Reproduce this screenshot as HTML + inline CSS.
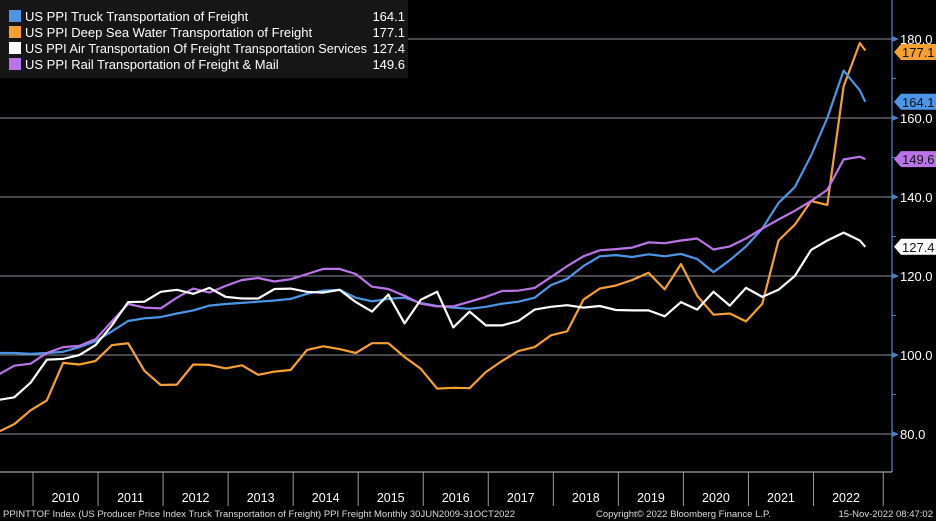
<!DOCTYPE html>
<html><head><meta charset="utf-8"><style>
html,body{margin:0;padding:0;background:#000;}
svg{display:block;font-family:"Liberation Sans",sans-serif;}
</style></head><body>
<svg id="chart" width="936" height="521" viewBox="0 0 936 521">
<rect x="0" y="0" width="936" height="521" fill="#000"/>
<g id="grid"></g>
<g id="series"></g>
<g id="axis"></g>
<g id="xaxis"></g>
<g id="legend"></g>
<text x="3" y="517" fill="#ddd" font-size="9.5">PPINTTOF Index (US Producer Price Index Truck Transportation of Freight) PPI Freight  Monthly 30JUN2009-31OCT2022</text>
<text x="596" y="517" fill="#ddd" font-size="9.5">Copyright© 2022 Bloomberg Finance L.P.</text>
<text x="933" y="517" fill="#ddd" font-size="9.5" text-anchor="end">15-Nov-2022 08:47:02</text>
</svg>
<script>
// months since Jan 2010 (quarterly samples, last = Oct 2022)
const months = [-7,-4,-1,2,5,8,11,14,17,20,23,26,29,32,35,38,41,44,47,50,53,56,59,62,65,68,71,74,77,80,83,86,89,92,95,98,101,104,107,110,113,116,119,122,125,128,131,134,137,140,143,146,149,152,153];
const truck = [100.5,100.5,100.3,100.5,100.8,102,103.5,106,108.6,109.3,109.6,110.5,111.3,112.5,112.9,113.2,113.5,113.8,114.2,115.5,116.3,116.5,114.5,113.6,114.2,114.5,113.2,112.4,112,111.7,112.2,113,113.5,114.5,117.7,119.3,122.5,125,125.3,124.8,125.5,125,125.6,124.3,121,124,127.5,132,138.5,142.5,150.5,160,172,167,164.1];
const deepSea = [80.5,82.5,86,88.5,98,97.6,98.5,102.5,103,96,92.4,92.5,97.6,97.5,96.6,97.4,95,95.8,96.2,101.3,102.2,101.5,100.5,103,103,99.5,96.5,91.5,91.7,91.6,95.7,98.5,101,102,105,106,114,116.8,117.6,119,120.8,116.6,123,115,110.2,110.5,108.5,113,129,133,139,138,168,179,177.1];
const air = [88.6,89.3,93,98.8,99,100,102.5,107.5,113.4,113.5,116,116.5,115.5,117,114.7,114.3,114.3,116.7,116.8,116,115.8,116.5,113.4,111,115.3,108,114,116,107,111,107.5,107.5,108.6,111.5,112.2,112.6,112,112.4,111.4,111.3,111.3,109.8,113.4,111.5,116,112.5,117,114.7,116.5,120,126.6,129,131,129,127.4];
const rail = [95,97.3,97.8,100.5,102,102.3,104,108.5,112.9,112,111.8,114.5,116.8,115.8,117.5,119,119.5,118.6,119.2,120.5,121.8,121.8,120.5,117.3,116.7,115,113,112.3,112.3,113.5,114.7,116.2,116.3,117,119.7,122.5,125,126.5,126.8,127.2,128.5,128.3,129,129.5,126.7,127.5,129.5,132,134.3,136.5,139,141.8,149.5,150.2,149.6];
const seriesNames = ["US PPI Truck Transportation of Freight","US PPI Deep Sea Water Transportation of Freight","US PPI Air Transportation Of Freight Transportation Services","US PPI Rail Transportation of Freight & Mail"];
const yTicks = [80,100,120,140,160,180];
const yMinor = [90,110,130,150,170];
const years = [2010,2011,2012,2013,2014,2015,2016,2017,2018,2019,2020,2021,2022];

const NS="http://www.w3.org/2000/svg";
function x(m){return 36+m*5.42;}
function y(v){return 39+(180-v)*3.95;}
function mk(tag,attrs,parent){const e=document.createElementNS(NS,tag);for(const k in attrs)e.setAttribute(k,attrs[k]);parent.appendChild(e);return e;}
const grid=document.getElementById('grid'),ser=document.getElementById('series'),ax=document.getElementById('axis'),xa=document.getElementById('xaxis'),lg=document.getElementById('legend');
const AX=892;
yTicks.forEach(t=>{
  const l=mk('line',{x1:0,x2:AX,y1:y(t),y2:y(t),stroke:'#8a8f99','stroke-width':1},grid);
  
  
  const tri=mk('path',{d:`M${AX} ${y(t)-3}L${AX+7} ${y(t)}L${AX} ${y(t)+3}Z`,fill:'#4a7fc0'},ax);
  
  
  const tx=mk('text',{x:AX+8,y:y(t)+5,fill:'#fff','font-size':13},ax);
  tx.textContent=t.toFixed(1);
  
  
});
yMinor.forEach(t=>{
  const l=mk('line',{x1:AX,x2:AX+4,y1:y(t),y2:y(t),stroke:'#4a7fc0'},ax);
  
  
});
const axl=mk('line',{x1:AX,x2:AX,y1:0,y2:472,stroke:'#4a7fc0','stroke-width':1.3},ax);


const bl=mk('line',{x1:0,x2:AX,y1:472,y2:472,stroke:'#ccc','stroke-width':1},xa);


years.forEach((yr,i)=>{
  const m=i*12, x0=x(m)-3, x1=x(m+12)-3;
  const s=mk('line',{x1:x0,x2:x0,y1:472,y2:506,stroke:'#999'},xa);
  
  
  const t=mk('text',{x:(x0+x1)/2,y:502,fill:'#fff','font-size':12.5,'text-anchor':'middle'},xa);
  t.textContent=yr;
  
  
});
const last=x(153)+18;
const sep=mk('line',{x1:last,x2:last,y1:472,y2:506,stroke:'#999'},xa);



const all=[truck,deepSea,air,rail];
const colors=['#4c96e8','#f5a031','#ffffff','#bb74e8'];
const keys=['truck','deep-sea','air','rail'];
const drawOrder=[1,0,3,2];
drawOrder.forEach(i=>{
  const d=all[i].map((v,j)=>(j?'L':'M')+x(months[j]).toFixed(1)+' '+y(v).toFixed(1)).join('');
  const p=mk('path',{d:d,fill:'none',stroke:colors[i],'stroke-width':2.2,'stroke-linejoin':'round'},ser);
  
  
});
all.forEach((s,i)=>{
  const v=s[s.length-1];
  let cy=y(v); if(i===1) cy=Math.max(cy,52);
  const g=mk('g',{},ax);
  
  
  mk('path',{d:`M${AX+2} ${cy}L${AX+9} ${cy-8}L936 ${cy-8}L936 ${cy+8}L${AX+9} ${cy+8}Z`,fill:colors[i]},g);
  const t=mk('text',{x:AX+10,y:cy+5,fill:'#111','font-size':13},g);
  t.textContent=v.toFixed(1);
});
const lb=mk('rect',{x:0,y:0,width:408,height:78,fill:'#161616'},lg);


seriesNames.forEach((n,i)=>{
  const cy=16+i*16;
  const g=mk('g',{},lg);
  
  
  mk('rect',{x:9,y:cy-6,width:12,height:12,fill:colors[i]},g);
  const t=mk('text',{x:25,y:cy+5,fill:'#fff','font-size':13},g);
  t.textContent=n;
  if(i===2){t.setAttribute('textLength','342');t.setAttribute('lengthAdjust','spacingAndGlyphs');}
  const s=all[i];
  const v=mk('text',{x:405,y:cy+5,fill:'#fff','font-size':13,'text-anchor':'end'},g);
  v.textContent=s[s.length-1].toFixed(1);
});
</script>
</body></html>
